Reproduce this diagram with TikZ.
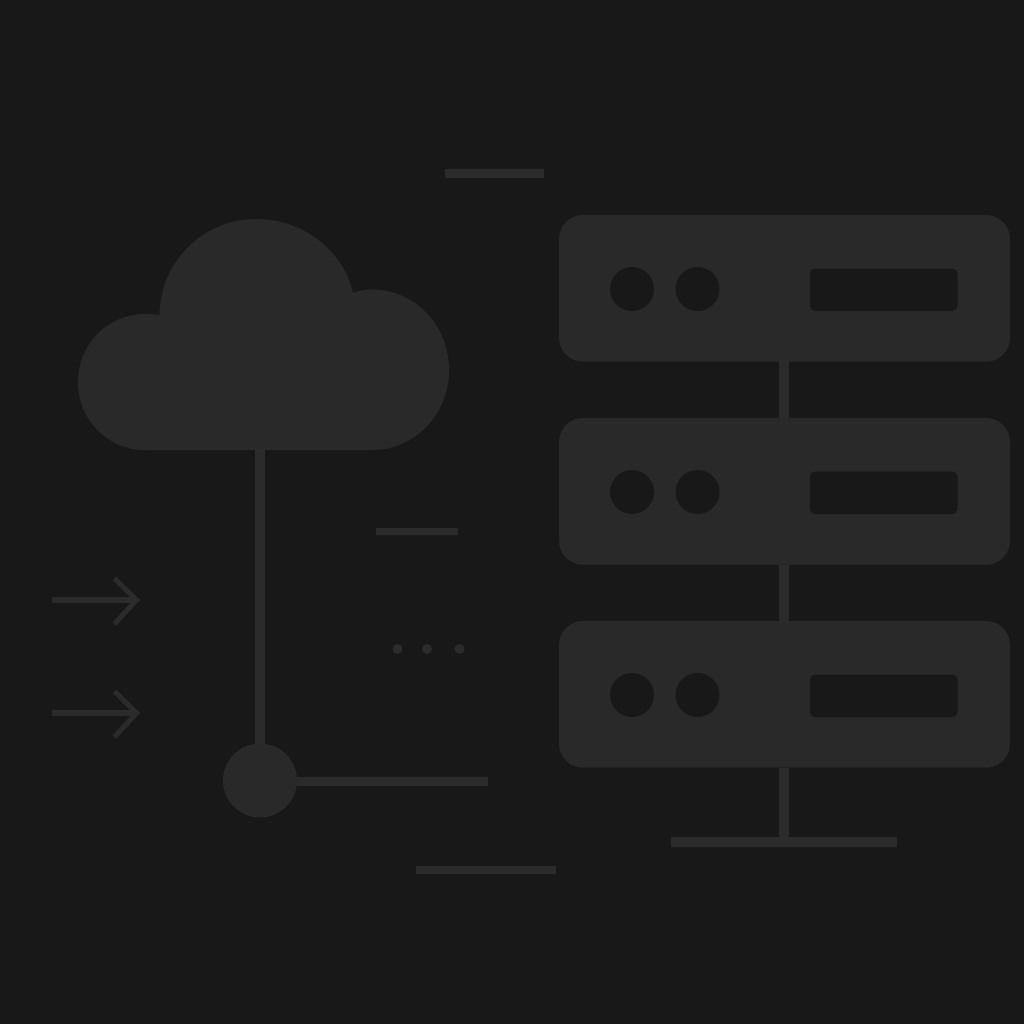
\documentclass[tikz,border=0pt]{standalone}
\definecolor{bgc}{HTML}{181818}
\definecolor{shp}{HTML}{292929}
\definecolor{lnc}{HTML}{2B2B2B}
\tikzset{x=1pt,y=-1pt,
 bar/.style={draw=lnc,line width=#1},
 shaftln/.style={draw=lnc,line width=5.5pt},
 headln/.style={draw=lnc,line width=5pt,miter limit=10}}
\begin{document}
\begin{tikzpicture}
\useasboundingbox (0,0) rectangle (1024,1024);
\fill[bgc] (0,0) rectangle (1024,1024);
% cloud
\fill[shp] (145,450)
 .. controls (108,450) and (78,420) .. (78,382)
 .. controls (78,344) and (108,314) .. (145,314)
 .. controls (150,314) and (155,314.3) .. (159.5,315)
 .. controls (160,262) and (203,219) .. (256,219)
 .. controls (303,219) and (343,250) .. (353,293)
 .. controls (359,290.5) and (366,289.5) .. (372,289.5)
 .. controls (415,289.5) and (449,325) .. (449,370)
 .. controls (449,414) and (415,450) .. (372,450) -- cycle;
% servers
\foreach \y in {215,418,621}{
 \fill[shp,rounded corners=24pt] (559,\y) rectangle (1010,\y+146.7);
 \fill[bgc] (632,\y+74) circle[radius=22];
 \fill[bgc] (697.5,\y+74) circle[radius=22];
 \fill[bgc,rounded corners=5pt] (810,\y+53.5) rectangle (957.5,\y+96);
}
\coordinate (s1) at (784,361); \coordinate (s2) at (784,418);
\coordinate (s3) at (784,565); \coordinate (s4) at (784,621);
\coordinate (s5) at (784,768); \coordinate (s6) at (784,842);
\draw[bar=10pt] (s1)--(s2);
\draw[bar=10pt] (s3)--(s4);
\draw[bar=10pt] (s5)--(s6);
\draw[bar=10pt] (671,842)--(897,842);
% hub
\draw[bar=10pt] (260,449)--(260,760);
\draw[bar=9pt] (280,781)--(488,781);
\fill[shp] (260,780.5) circle[radius=37];
% dashes
\draw[bar=9pt] (445,174)--(544,174);
\draw[bar=7pt] (376,531.5)--(458,531.5);
\draw[bar=8pt] (416,870)--(556,870);
% dots
\fill[lnc] (397.5,649) circle[radius=5];
\fill[lnc] (427,649) circle[radius=5];
\fill[lnc] (459.5,649) circle[radius=5];
% arrows
\foreach \y in {600,713}{
 \draw[shaftln] (52,\y)--(136,\y);
 \draw[headln] (114.5,\y-21.5)--(136.5,\y)--(114.5,\y+24);
}
\end{tikzpicture}
\end{document}
